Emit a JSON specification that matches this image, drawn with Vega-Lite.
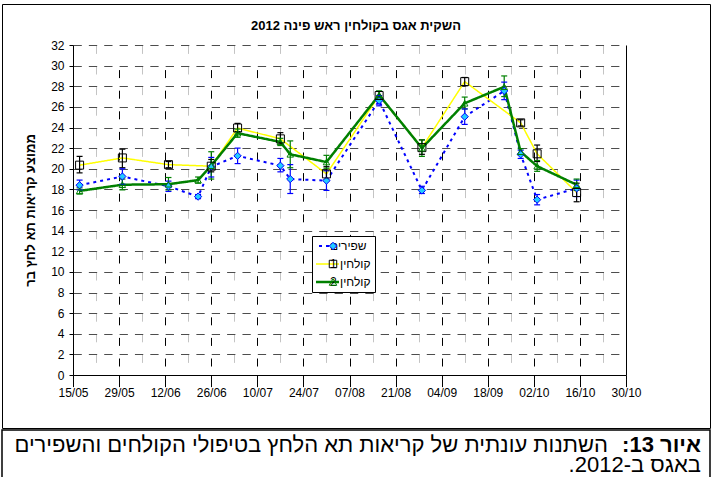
{
  "$schema": "https://vega.github.io/schema/vega-lite/v6.json",
  "background": "white",
  "padding": {"left": 1, "top": 3, "right": 2, "bottom": 0},
  "spacing": 0,
  "config": {
    "font": "Liberation Sans",
    "view": {"stroke": "black", "strokeWidth": 1},
    "axis": {"labelFont": "Liberation Sans", "titleFont": "Liberation Sans", "labelColor": "black", "titleColor": "black"},
    "legend": {"labelFont": "Liberation Sans", "labelColor": "black"},
    "title": {"font": "Liberation Sans", "color": "black"},
    "text": {"font": "Liberation Sans", "color": "black"}
  },
  "datasets": {
    "obs": [
      {"date": "2012-05-17", "series": "שפירים", "value": 18.4, "lo": 17.95, "hi": 18.9},
      {"date": "2012-05-30", "series": "שפירים", "value": 19.25, "lo": 18.5, "hi": 20.0},
      {"date": "2012-06-13", "series": "שפירים", "value": 18.3, "lo": 17.8, "hi": 18.8},
      {"date": "2012-06-22", "series": "שפירים", "value": 17.3, "lo": 17.1, "hi": 17.5},
      {"date": "2012-06-26", "series": "שפירים", "value": 20.2, "lo": 19.2, "hi": 21.1},
      {"date": "2012-07-04", "series": "שפירים", "value": 21.25, "lo": 20.5, "hi": 22.0},
      {"date": "2012-07-17", "series": "שפירים", "value": 20.3, "lo": 19.7, "hi": 21.0},
      {"date": "2012-07-20", "series": "שפירים", "value": 19.0, "lo": 17.6, "hi": 20.4},
      {"date": "2012-07-31", "series": "שפירים", "value": 18.85, "lo": 17.9, "hi": 19.8},
      {"date": "2012-08-16", "series": "שפירים", "value": 26.6, "lo": 26.1, "hi": 27.1},
      {"date": "2012-08-29", "series": "שפירים", "value": 17.9, "lo": 17.6, "hi": 18.3},
      {"date": "2012-09-11", "series": "שפירים", "value": 25.05, "lo": 24.3, "hi": 25.8},
      {"date": "2012-09-23", "series": "שפירים", "value": 27.55, "lo": 26.7, "hi": 28.4},
      {"date": "2012-09-28", "series": "שפירים", "value": 21.4, "lo": 21.0, "hi": 21.8},
      {"date": "2012-10-03", "series": "שפירים", "value": 17.0, "lo": 16.5, "hi": 17.5},
      {"date": "2012-10-15", "series": "שפירים", "value": 18.1, "lo": 17.3, "hi": 18.9},
      {"date": "2012-05-17", "series": "קולחין 1", "value": 20.35, "lo": 19.6, "hi": 21.2},
      {"date": "2012-05-30", "series": "קולחין 1", "value": 21.05, "lo": 20.1, "hi": 21.9},
      {"date": "2012-06-13", "series": "קולחין 1", "value": 20.4, "lo": 20.1, "hi": 20.7},
      {"date": "2012-06-26", "series": "קולחין 1", "value": 20.25, "lo": 19.7, "hi": 20.9},
      {"date": "2012-07-04", "series": "קולחין 1", "value": 23.95, "lo": 23.6, "hi": 24.4},
      {"date": "2012-07-17", "series": "קולחין 1", "value": 22.9, "lo": 22.4, "hi": 23.5},
      {"date": "2012-07-31", "series": "קולחין 1", "value": 19.5, "lo": 18.9, "hi": 20.2},
      {"date": "2012-08-16", "series": "קולחין 1", "value": 27.1, "lo": 26.7, "hi": 27.5},
      {"date": "2012-08-29", "series": "קולחין 1", "value": 22.05, "lo": 21.4, "hi": 22.8},
      {"date": "2012-09-11", "series": "קולחין 1", "value": 28.45, "lo": 28.05, "hi": 28.85},
      {"date": "2012-09-28", "series": "קולחין 1", "value": 24.45, "lo": 24.15, "hi": 24.75},
      {"date": "2012-10-03", "series": "קולחין 1", "value": 21.45, "lo": 20.7, "hi": 22.3},
      {"date": "2012-10-15", "series": "קולחין 1", "value": 17.7, "lo": 16.8, "hi": 18.6},
      {"date": "2012-05-17", "series": "קולחין 2", "value": 17.85, "lo": 17.55, "hi": 18.15},
      {"date": "2012-05-30", "series": "קולחין 2", "value": 18.45, "lo": 17.95, "hi": 19.0},
      {"date": "2012-06-13", "series": "קולחין 2", "value": 18.5, "lo": 17.95, "hi": 19.15},
      {"date": "2012-06-22", "series": "קולחין 2", "value": 18.9, "lo": 18.6, "hi": 19.2},
      {"date": "2012-06-26", "series": "קולחין 2", "value": 20.3, "lo": 19.0, "hi": 21.65},
      {"date": "2012-07-04", "series": "קולחין 2", "value": 23.45, "lo": 23.05, "hi": 23.85},
      {"date": "2012-07-17", "series": "קולחין 2", "value": 22.6, "lo": 22.25, "hi": 22.95},
      {"date": "2012-07-20", "series": "קולחין 2", "value": 21.4, "lo": 20.1, "hi": 22.7},
      {"date": "2012-07-31", "series": "קולחין 2", "value": 20.65, "lo": 20.05, "hi": 21.3},
      {"date": "2012-08-16", "series": "קולחין 2", "value": 27.15, "lo": 26.8, "hi": 27.55},
      {"date": "2012-08-29", "series": "קולחין 2", "value": 22.0, "lo": 21.2, "hi": 22.8},
      {"date": "2012-09-11", "series": "קולחין 2", "value": 26.35, "lo": 25.8, "hi": 26.95},
      {"date": "2012-09-23", "series": "קולחין 2", "value": 27.95, "lo": 27.0, "hi": 29.0},
      {"date": "2012-09-28", "series": "קולחין 2", "value": 21.65, "lo": 21.35, "hi": 21.95},
      {"date": "2012-10-03", "series": "קולחין 2", "value": 20.25, "lo": 19.75, "hi": 20.8},
      {"date": "2012-10-15", "series": "קולחין 2", "value": 18.45, "lo": 17.9, "hi": 19.0}
    ],
    "caption": [
      {"line": 1, "part": "label", "text": "איור 13:\u200f"},
      {"line": 1, "part": "body", "text": "השתנות עונתית של קריאות תא הלחץ בטיפולי הקולחים והשפירים"},
      {"line": 2, "part": "body", "text": "באגס ב-2012.\u200f"}
    ]
  },
  "vconcat": [
    {
      "width": 708,
      "height": 424,
      "data": {"name": "obs"},
      "title": {"text": "השקית אגס בקולחין ראש פינה 2012", "fontSize": 13, "fontWeight": "bold", "offset": -29, "anchor": "middle"},
      "resolve": {"axis": {"x": "independent", "y": "independent"}},
      "layer": [
        {
          "mark": {"type": "line"},
          "encoding": {
            "x": {
              "field": "date", "type": "temporal",
              "scale": {"type": "utc", "domain": [{"year": 2012, "month": 5, "date": 15, "utc": true}, {"year": 2012, "month": 10, "date": 30, "utc": true}], "range": [71, 624]},
              "axis": {
                "orient": "bottom", "offset": -53, "title": null, "format": "%d/%m",
                "values": [
                  {"year": 2012, "month": 5, "date": 15, "utc": true},
                  {"year": 2012, "month": 5, "date": 29, "utc": true},
                  {"year": 2012, "month": 6, "date": 12, "utc": true},
                  {"year": 2012, "month": 6, "date": 26, "utc": true},
                  {"year": 2012, "month": 7, "date": 10, "utc": true},
                  {"year": 2012, "month": 7, "date": 24, "utc": true},
                  {"year": 2012, "month": 8, "date": 7, "utc": true},
                  {"year": 2012, "month": 8, "date": 21, "utc": true},
                  {"year": 2012, "month": 9, "date": 4, "utc": true},
                  {"year": 2012, "month": 9, "date": 18, "utc": true},
                  {"year": 2012, "month": 10, "date": 2, "utc": true},
                  {"year": 2012, "month": 10, "date": 16, "utc": true},
                  {"year": 2012, "month": 10, "date": 30, "utc": true}
                ],
                "labelFontSize": 12, "labelPadding": 8, "labelFlush": false, "labelOverlap": false, "labelBound": false,
                "tickSize": 4, "tickColor": "black", "domainColor": "black", "domainWidth": 1,
                "grid": true, "gridColor": "black", "gridWidth": 1, "gridDash": [8, 12.6], "gridDashOffset": 8
              }
            },
            "y": {
              "field": "value", "type": "quantitative",
              "scale": {"domain": [0, 32], "range": [371, 41], "nice": false},
              "axis": {
                "orient": "left", "offset": -71,
                "values": [0, 2, 4, 6, 8, 10, 12, 14, 16, 18, 20, 22, 24, 26, 28, 30, 32],
                "title": "ממוצע קריאות תא לחץ בר", "titleFontSize": 13, "titleFontWeight": "bold", "titlePadding": 13,
                "labelFontSize": 12, "labelPadding": 5, "labelFlush": false,
                "tickSize": 4, "tickColor": "black", "domainColor": "black", "domainWidth": 1,
                "grid": true, "gridColor": "#4d4d4d", "gridWidth": 1, "gridDash": [8.3, 7.06]
              }
            },
            "color": {
              "field": "series", "type": "nominal",
              "scale": {"domain": ["שפירים", "קולחין 1", "קולחין 2"], "range": ["#0000FF", "#FFFF00", "#008000"]},
              "legend": {
                "orient": "none", "legendX": 310, "legendY": 232, "title": null, "zindex": 1,
                "symbolType": "stroke", "symbolSize": 1156, "symbolStrokeWidth": 2,
                "clipHeight": 12, "rowPadding": 6, "padding": 4, "labelOffset": 2,
                "labelFontSize": 12, "strokeColor": "black", "fillColor": "white",
                "encoding": {"symbols": {"strokeWidth": {"value": {"expr": "datum.value === 'קולחין 1' ? 1.5 : datum.value === 'שפירים' ? 2 : 2.5"}}}}
              }
            },
            "strokeDash": {
              "field": "series", "type": "nominal",
              "scale": {"domain": ["שפירים", "קולחין 1", "קולחין 2"], "range": [[3, 4], [1, 0], [1, 0]]}
            },
            "strokeWidth": {
              "field": "series", "type": "nominal",
              "scale": {"type": "point", "domain": ["קולחין 1", "שפירים", "קולחין 2"], "range": [1.5, 2.5], "padding": 0},
              "legend": null
            }
          }
        },
        {
          "mark": {"type": "rule", "strokeWidth": 1.2},
          "encoding": {
            "x": {
              "field": "date", "type": "temporal",
              "axis": {
                "orient": "top", "title": null, "labels": false, "ticks": false, "domain": false,
                "values": [
                  {"year": 2012, "month": 5, "date": 22, "utc": true},
                  {"year": 2012, "month": 6, "date": 5, "utc": true},
                  {"year": 2012, "month": 6, "date": 19, "utc": true},
                  {"year": 2012, "month": 7, "date": 3, "utc": true},
                  {"year": 2012, "month": 7, "date": 17, "utc": true},
                  {"year": 2012, "month": 7, "date": 31, "utc": true},
                  {"year": 2012, "month": 8, "date": 14, "utc": true},
                  {"year": 2012, "month": 8, "date": 28, "utc": true},
                  {"year": 2012, "month": 9, "date": 11, "utc": true},
                  {"year": 2012, "month": 9, "date": 25, "utc": true},
                  {"year": 2012, "month": 10, "date": 9, "utc": true},
                  {"year": 2012, "month": 10, "date": 23, "utc": true}
                ],
                "grid": true, "gridColor": "#c4c4c4", "gridWidth": 1, "gridDash": [8, 12.6], "gridDashOffset": 8
              }
            },
            "y": {
              "field": "lo", "type": "quantitative",
              "axis": {"orient": "right", "offset": -84, "title": null, "labels": false, "ticks": false, "grid": false, "domain": true, "domainColor": "black", "domainWidth": 1}
            },
            "y2": {"field": "hi"},
            "stroke": {
              "field": "series", "type": "nominal",
              "scale": {"domain": ["שפירים", "קולחין 1", "קולחין 2"], "range": ["#0000FF", "black", "#008000"]},
              "legend": null
            }
          }
        },
        {
          "mark": {"type": "point", "shape": "stroke", "size": 36, "strokeWidth": 1.2, "filled": false, "opacity": 1},
          "encoding": {
            "x": {"field": "date", "type": "temporal", "axis": null},
            "y": {"field": "lo", "type": "quantitative", "axis": null},
            "stroke": {"field": "series", "type": "nominal", "legend": null}
          }
        },
        {
          "mark": {"type": "point", "shape": "stroke", "size": 36, "strokeWidth": 1.2, "filled": false, "opacity": 1},
          "encoding": {
            "x": {"field": "date", "type": "temporal", "axis": null},
            "y": {"field": "hi", "type": "quantitative", "axis": null},
            "stroke": {"field": "series", "type": "nominal", "legend": null}
          }
        },
        {
          "mark": {"type": "point", "strokeWidth": 1, "opacity": 1},
          "encoding": {
            "x": {"field": "date", "type": "temporal", "axis": null},
            "y": {"field": "value", "type": "quantitative", "axis": null},
            "shape": {
              "field": "series", "type": "nominal", "sort": null,
              "scale": {"range": ["diamond", "square", "triangle-up"]},
              "legend": {
                "orient": "none", "legendX": 321, "legendY": 232, "title": null, "zindex": 2,
                "symbolSize": 56, "symbolStrokeWidth": 1,
                "clipHeight": 12, "rowPadding": 6, "padding": 4, "labelOffset": 2,
                "labelFontSize": 12, "labelColor": "transparent",
                "encoding": {"symbols": {
                  "stroke": {"value": {"expr": "datum.value === 'קולחין 1' ? 'black' : datum.value === 'שפירים' ? '#0000FF' : '#008000'"}},
                  "fill": {"value": {"expr": "datum.value === 'שפירים' ? '#22CCFF' : 'transparent'"}},
                  "opacity": {"value": 1}
                }}
              }
            },
            "stroke": {"field": "series", "type": "nominal", "legend": null},
            "fill": {
              "field": "series", "type": "nominal",
              "scale": {"domain": ["שפירים", "קולחין 1", "קולחין 2"], "range": ["#22CCFF", "transparent", "transparent"]},
              "legend": null
            },
            "size": {
              "field": "series", "type": "nominal",
              "scale": {"type": "point", "domain": ["קולחין 2", "שפירים", "קולחין 1"], "range": [42, 64], "padding": 0},
              "legend": null
            }
          }
        }
      ]
    },
    {
      "width": 708,
      "height": 49,
      "data": {"name": "caption"},
      "view": {"stroke": "black", "strokeWidth": 1.5},
      "encoding": {
        "y": {"field": "line", "type": "ordinal", "scale": {"type": "point", "range": [21.5, 42], "padding": 0}, "axis": null}
      },
      "layer": [
        {
          "transform": [{"filter": "datum.part === 'label'"}],
          "mark": {"type": "text", "align": "right", "baseline": "alphabetic", "fontSize": 22, "fontWeight": "bold", "dx": -9},
          "encoding": {"x": {"value": "width"}, "text": {"field": "text"}}
        },
        {
          "transform": [{"filter": "datum.part === 'body' && datum.line === 1"}],
          "mark": {"type": "text", "align": "right", "baseline": "alphabetic", "fontSize": 22, "dx": -102},
          "encoding": {"x": {"value": "width"}, "text": {"field": "text"}}
        },
        {
          "transform": [{"filter": "datum.line === 2"}],
          "mark": {"type": "text", "align": "right", "baseline": "alphabetic", "fontSize": 22, "dx": -9},
          "encoding": {"x": {"value": "width"}, "text": {"field": "text"}}
        }
      ]
    }
  ]
}
